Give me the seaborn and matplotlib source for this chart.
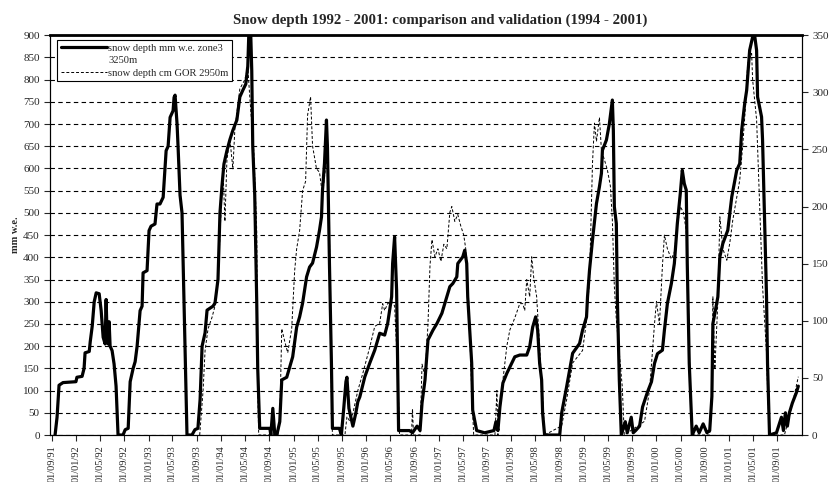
import pandas as pd
import numpy as np
import matplotlib
matplotlib.use('Agg')
import matplotlib.pyplot as plt
import matplotlib.dates as mdates
from matplotlib.lines import Line2D
import seaborn as sns

# --- data ---
# modelled snow water equivalent, zone 3 (3250 m), mm w.e. -> left axis
swe_dates = [
    '1991-09-18', '1991-09-28', '1991-10-08', '1991-10-28', '1992-01-01', '1992-01-06', '1992-02-01',
    '1992-02-11', '1992-02-16', '1992-03-08', '1992-03-13', '1992-03-23', '1992-04-02', '1992-04-12',
    '1992-04-27', '1992-05-07', '1992-05-17', '1992-05-27', '1992-06-01', '1992-06-06', '1992-06-11',
    '1992-06-16', '1992-06-21', '1992-07-01', '1992-07-11', '1992-07-21', '1992-07-31',
    '1992-08-25', '1992-09-05', '1992-09-20', '1992-09-30', '1992-10-15', '1992-10-25', '1992-11-04',
    '1992-11-19', '1992-11-29', '1992-12-04', '1992-12-24', '1993-01-03', '1993-01-13', '1993-02-02',
    '1993-02-12', '1993-02-27', '1993-03-15', '1993-03-30', '1993-04-09', '1993-04-19', '1993-05-04',
    '1993-05-09', '1993-05-14', '1993-05-24', '1993-05-29', '1993-06-08', '1993-06-18', '1993-06-28',
    '1993-07-03', '1993-07-13', '1993-08-07', '1993-08-22', '1993-09-06',
    '1993-09-17', '1993-09-27', '1993-10-12', '1993-10-22', '1993-11-21', '1993-12-01', '1993-12-16',
    '1993-12-26', '1994-01-05', '1994-01-15', '1994-01-30', '1994-02-14', '1994-03-01', '1994-03-21',
    '1994-04-05', '1994-04-20', '1994-05-05', '1994-05-15', '1994-05-20', '1994-05-30', '1994-06-04',
    '1994-06-09', '1994-06-19', '1994-06-29', '1994-07-04', '1994-07-14', '1994-09-03', '1994-09-08',
    '1994-09-18', '1994-09-28', '1994-10-08',
    '1994-10-23', '1994-11-02', '1994-11-27', '1994-12-27', '1995-01-16', '1995-01-31', '1995-02-15',
    '1995-03-07', '1995-03-22', '1995-04-06', '1995-04-26', '1995-05-11', '1995-05-21', '1995-05-26',
    '1995-06-05', '1995-06-15', '1995-06-20', '1995-06-30', '1995-07-10', '1995-07-15', '1995-08-19',
    '1995-08-29',
    '1995-09-10', '1995-09-21', '1995-09-26', '1995-10-06', '1995-10-16', '1995-10-26', '1995-11-10',
    '1995-11-20', '1995-11-30', '1995-12-25', '1996-01-19', '1996-02-13', '1996-03-09', '1996-04-03',
    '1996-04-18', '1996-05-08', '1996-05-13', '1996-05-23', '1996-06-02', '1996-06-07', '1996-06-12',
    '1996-08-06', '1996-08-21',
    '1996-09-13', '1996-09-28', '1996-10-08', '1996-10-23', '1996-11-07', '1996-12-02', '1996-12-22',
    '1997-01-16', '1997-02-10', '1997-02-25', '1997-03-12', '1997-04-01', '1997-04-06', '1997-05-01',
    '1997-05-11', '1997-05-21', '1997-05-26', '1997-06-15', '1997-06-20', '1997-07-10', '1997-08-19',
    '1997-10-05', '1997-10-15', '1997-10-25',
    '1997-11-04', '1997-11-19', '1997-12-09', '1997-12-24', '1998-01-18', '1998-02-12', '1998-03-19',
    '1998-04-03', '1998-04-18', '1998-05-03', '1998-05-13', '1998-05-23', '1998-06-02', '1998-06-07',
    '1998-06-17', '1998-09-01',
    '1998-09-11', '1998-10-06', '1998-10-21', '1998-11-05', '1998-12-10', '1998-12-25', '1999-01-14',
    '1999-01-19', '1999-01-29', '1999-02-13', '1999-03-05', '1999-03-20', '1999-03-30', '1999-04-04',
    '1999-04-24', '1999-05-09', '1999-05-24', '1999-05-29', '1999-06-03', '1999-06-13', '1999-06-18',
    '1999-06-28', '1999-07-08', '1999-07-28', '1999-08-07', '1999-08-27', '1999-09-06',
    '1999-09-18', '1999-10-08', '1999-10-23', '1999-11-17', '1999-12-07', '1999-12-22', '2000-01-06',
    '2000-01-31', '2000-02-10', '2000-02-25', '2000-03-16', '2000-03-31', '2000-04-15', '2000-04-30',
    '2000-05-10', '2000-05-20', '2000-05-30', '2000-06-04', '2000-06-14', '2000-06-24', '2000-06-29',
    '2000-07-19', '2000-08-03', '2000-08-23', '2000-09-11', '2000-09-25',
    '2000-10-06', '2000-10-11', '2000-10-21', '2000-11-05', '2000-11-15', '2000-11-30', '2000-12-25',
    '2001-01-14', '2001-02-08', '2001-02-23', '2001-03-05', '2001-03-20', '2001-03-30', '2001-04-14',
    '2001-04-29', '2001-05-09', '2001-05-19', '2001-05-24', '2001-06-13', '2001-06-18', '2001-06-28',
    '2001-07-08', '2001-07-13', '2001-07-23', '2001-08-27', '2001-09-21', '2001-10-01', '2001-10-11',
    '2001-10-21', '2001-10-31', '2001-11-15', '2001-12-05', '2001-12-15',
]
swe_mm = [
    0, 40, 112, 118, 120, 130, 132,
    150, 185, 188, 210, 245, 300, 320,
    318, 280, 220, 205, 305, 220, 205,
    255, 200, 190, 160, 110, 0,
    0, 12, 15, 120, 150, 165, 200,
    280, 290, 365, 370, 460, 470, 475,
    520, 520, 535, 640, 650, 715, 730,
    760, 765, 700, 650, 540, 500, 300,
    200, 0, 0, 12, 15,
    80, 200, 230, 281, 290, 297, 350,
    500, 560, 610, 640, 665, 686, 709,
    761, 776, 790, 830, 900, 900, 820,
    650, 540, 300, 150, 15, 15, 0,
    60, 0, 0,
    30, 124, 130, 176, 243, 266, 297,
    356, 378, 387, 423, 461, 491, 551,
    611, 709, 648, 387, 162, 15, 15,
    0,
    60, 120, 130, 60, 40, 20, 50,
    75, 86, 131, 162, 191, 229, 225,
    251, 311, 386, 446, 326, 162, 10,
    10, 5,
    20, 10, 72, 124, 214, 236, 251,
    274, 311, 334, 341, 356, 386, 401,
    416, 386, 311, 162, 56, 10, 5,
    10, 30, 10,
    63, 117, 139, 153, 176, 180, 180,
    199, 243, 266, 236, 161, 124, 49,
    0, 0,
    50, 109, 146, 184, 206, 236, 266,
    311, 371, 439, 521, 559, 589, 641,
    664, 701, 754, 686, 514, 476, 311,
    124, 0, 30, 5, 40, 5,
    10, 20, 63, 97, 120, 161, 183,
    191, 236, 296, 341, 386, 476, 544,
    596, 566, 551, 386, 161, 50, 0,
    20, 5, 25, 5, 10,
    87, 251, 274, 311, 401, 431, 461,
    536, 596, 611, 686, 746, 776, 866,
    896, 900, 866, 761, 716, 664, 491,
    311, 161, 0, 5, 40, 10, 50,
    20, 50, 72, 95, 110,
]

# measured snow depth at GOR station (2950 m), cm -> right axis
gor_dates = [
    '1993-09-15', '1993-10-02', '1993-10-12', '1993-10-27', '1993-11-16', '1993-12-01', '1993-12-16',
    '1993-12-26', '1994-01-10', '1994-01-20', '1994-01-30', '1994-02-14', '1994-03-01', '1994-03-11',
    '1994-04-05', '1994-04-30', '1994-05-15', '1994-05-25', '1994-06-04', '1994-06-14', '1994-06-29',
    '1994-07-04', '1994-07-09', '1994-10-13',
    '1994-10-23', '1994-11-02', '1994-11-17', '1994-12-02', '1994-12-22', '1995-01-06', '1995-01-16',
    '1995-01-31', '1995-02-15', '1995-03-02', '1995-03-12', '1995-03-27', '1995-04-06', '1995-04-26',
    '1995-05-11', '1995-05-26', '1995-06-10', '1995-06-20', '1995-06-30', '1995-07-10', '1995-07-15',
    '1995-09-16', '1995-09-26', '1995-10-11', '1995-10-26', '1995-11-20', '1995-12-15', '1996-01-19',
    '1996-02-13', '1996-03-09', '1996-03-24', '1996-04-03', '1996-04-18', '1996-05-08', '1996-05-23',
    '1996-06-07', '1996-06-17', '1996-08-16', '1996-08-21', '1996-08-26',
    '1996-09-28', '1996-10-08', '1996-10-23', '1996-11-07', '1996-11-17', '1996-11-27', '1996-12-12',
    '1996-12-27', '1997-01-11', '1997-01-26', '1997-02-10', '1997-02-25', '1997-03-07', '1997-03-22',
    '1997-04-06', '1997-04-21', '1997-05-06', '1997-05-16', '1997-05-31', '1997-06-15', '1997-06-25',
    '1997-10-10', '1997-10-20', '1997-10-25',
    '1997-11-04', '1997-11-19', '1997-12-09', '1997-12-24', '1998-01-08', '1998-01-23', '1998-02-12',
    '1998-02-27', '1998-03-09', '1998-03-19', '1998-04-03', '1998-04-13', '1998-04-23', '1998-05-08',
    '1998-05-23', '1998-06-07', '1998-06-17',
    '1998-09-11', '1998-10-06', '1998-11-05', '1998-12-25', '1999-01-14', '1999-01-29', '1999-02-13',
    '1999-02-23', '1999-03-05', '1999-03-20', '1999-03-30', '1999-04-14', '1999-04-29', '1999-05-14',
    '1999-05-24', '1999-06-03', '1999-06-13', '1999-06-28', '1999-07-13', '1999-07-23',
    '1999-11-02', '1999-11-27', '1999-12-22', '2000-01-01', '2000-01-16', '2000-01-31', '2000-02-10',
    '2000-02-25', '2000-03-16', '2000-03-31', '2000-04-15', '2000-04-30', '2000-05-15', '2000-05-30',
    '2000-06-09', '2000-06-19', '2000-06-29',
    '2000-09-25', '2000-10-06', '2000-10-11', '2000-10-21', '2000-11-05', '2000-11-15', '2000-11-30',
    '2000-12-20', '2001-01-04', '2001-01-19', '2001-02-08', '2001-02-23', '2001-03-10', '2001-03-25',
    '2001-04-04', '2001-04-24', '2001-04-29', '2001-05-19', '2001-06-03', '2001-06-18', '2001-07-08',
    '2001-07-13', '2001-07-23', '2001-10-06', '2001-10-31', '2001-11-25', '2001-12-15',
]
gor_cm = [
    0, 39, 74, 93, 103, 113, 136,
    175, 233, 187, 241, 259, 233, 268,
    303, 311, 322, 296, 272, 249, 179,
    39, 0, 0,
    12, 93, 82, 72, 93, 144, 163,
    179, 214, 222, 280, 296, 253, 233,
    230, 210, 233, 249, 175, 39, 0,
    0, 16, 12, 19, 39, 54, 77,
    95, 98, 115, 109, 115, 117, 113,
    58, 0, 0, 23, 0,
    0, 62, 51, 97, 148, 171, 156,
    163, 152, 167, 163, 195, 200, 187,
    193, 183, 175, 163, 117, 39, 0,
    0, 39, 0,
    23, 48, 78, 92, 98, 105, 115,
    115, 109, 136, 121, 156, 138, 121,
    77, 33, 0,
    8, 31, 63, 74, 100, 136, 238,
    273, 257, 278, 249, 241, 232, 218,
    188, 130, 101, 72, 42, 0,
    12, 39, 97, 117, 97, 148, 175,
    163, 154, 160, 183, 200, 195, 179,
    117, 39, 0,
    0, 39, 121, 58, 117, 191, 163,
    153, 168, 188, 208, 223, 253, 290,
    325, 334, 311, 276, 203, 130, 72,
    42, 0, 0, 16, 35, 51,
]

left_ticks = list(range(0, 901, 50))
right_ticks = list(range(0, 351, 50))

swe = pd.DataFrame({'date': pd.to_datetime(swe_dates), 'value': swe_mm})
gor = pd.DataFrame({'date': pd.to_datetime(gor_dates), 'value': gor_cm})

sns.set_style('white')
plt.rcParams['font.family'] = ['Liberation Serif', 'DejaVu Serif']

fig, ax = plt.subplots(figsize=(8.35, 4.82), dpi=100)
fig.subplots_adjust(left=0.06, right=0.96, top=0.927, bottom=0.0975)
ax2 = ax.twinx()

sns.lineplot(data=swe, x='date', y='value', ax=ax, color='black', lw=2.3,
             estimator=None, sort=False, label='snow depth mm w.e. zone3', legend=False)
sns.lineplot(data=gor, x='date', y='value', ax=ax2, color='black', lw=0.7,
             estimator=None, sort=False, label='snow depth cm GOR 2950m', legend=False)
ax2.lines[0].set_dashes([3, 2])

ax.set_ylim(0, 900)
ax2.set_ylim(0, 350)
ax.set_yticks(left_ticks)
ax2.set_yticks(right_ticks)
ax.set_xlim(pd.Timestamp('1991-08-24'), pd.Timestamp('2001-12-31 12:00'))

ax.xaxis.set_major_locator(mdates.MonthLocator(bymonth=[1, 5, 9], bymonthday=1))
ax.xaxis.set_major_formatter(mdates.DateFormatter('%d/%m/%y'))
plt.setp(ax.get_xticklabels(), rotation=90, fontsize=7.5)

ax.yaxis.grid(True, color='black', lw=0.8, linestyle=(0, (4, 3)))
ax.set_axisbelow(True)
ax.tick_params(axis='y', labelsize=8, length=4, direction='out', left=True)
ax.tick_params(axis='x', length=4, direction='out', bottom=True)
ax2.tick_params(axis='y', labelsize=8, length=4, direction='out', right=True)

for a in (ax, ax2):
    for s in a.spines.values():
        s.set_color('black')
        s.set_linewidth(0.8)
ax2.spines['top'].set_linewidth(2)

ax.set_xlabel('')
ax.set_ylabel('mm w.e.', fontsize=7.5, fontweight='bold', labelpad=2)
ax2.set_ylabel('')
ax.set_title('Snow depth 1992 - 2001: comparison and validation (1994 - 2001)',
             fontsize=10.7, fontweight='bold', pad=8, x=0.519)

# legend: the zone label wraps onto a second row, like the original
h1, l1 = ax.get_legend_handles_labels()
h2, l2 = ax2.get_legend_handles_labels()
blank = Line2D([], [], color='none')
leg = ax2.legend([h1[0], blank, h2[0]], [l1[0], '3250m', l2[0]],
                 loc='upper left', bbox_to_anchor=(0.009, 0.988), borderaxespad=0,
                 fontsize=7.6, frameon=True, fancybox=False, edgecolor='black', framealpha=1,
                 handlelength=4.4, handletextpad=0.1, borderpad=0.35, labelspacing=0.28)
leg.get_frame().set_linewidth(0.8)

fig.savefig('out.png', dpi=100)
